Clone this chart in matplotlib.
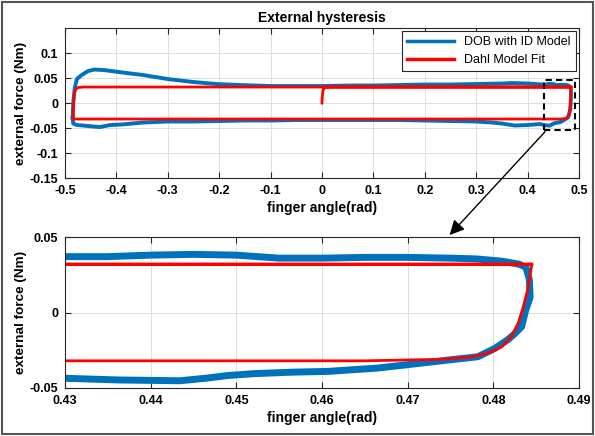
import numpy as np
import matplotlib
matplotlib.use('Agg')
import matplotlib.pyplot as plt
from matplotlib.patches import Rectangle

plt.rcParams['font.family'] = ['Liberation Sans', 'DejaVu Sans']
plt.rcParams['font.weight'] = 'bold'

dob_x = [-0.485, -0.484, -0.481, -0.477, -0.4675, -0.455, -0.443, -0.425, -0.41, -0.38,
         -0.348, -0.30, -0.25, -0.205, -0.16, -0.10, -0.05, 0.0, 0.05, 0.10,
         0.15, 0.20, 0.25, 0.30, 0.35, 0.37, 0.40, 0.43, 0.435, 0.44,
         0.445, 0.45, 0.455, 0.46, 0.465, 0.47, 0.475, 0.478, 0.481, 0.483,
         0.4838, 0.4842, 0.4843, 0.4838, 0.4833, 0.4825, 0.4817, 0.4802, 0.4782, 0.4755,
         0.4724, 0.4665, 0.4607, 0.4566, 0.452, 0.4489, 0.4465, 0.4434, 0.4364, 0.4302,
         0.424, 0.40, 0.375, 0.35, 0.327, 0.30, 0.25, 0.20, 0.15, 0.10,
         0.05, 0.0, -0.05, -0.10, -0.15, -0.20, -0.251, -0.30, -0.348, -0.39,
         -0.412, -0.432, -0.445, -0.465, -0.477, -0.484, -0.485]
dob_y = [-0.030, 0.000, 0.030, 0.048, 0.056, 0.064, 0.067, 0.066, 0.064, 0.060,
         0.056, 0.048, 0.042, 0.038, 0.036, 0.034, 0.034, 0.034, 0.035, 0.035,
         0.036, 0.037, 0.037, 0.038, 0.039, 0.040, 0.039, 0.037, 0.037, 0.038,
         0.0385, 0.038, 0.036, 0.036, 0.0365, 0.0365, 0.036, 0.0355, 0.034, 0.032,
         0.030, 0.022, 0.010, 0.002, -0.0094, -0.014, -0.018, -0.0237, -0.0293, -0.031,
         -0.033, -0.0368, -0.039, -0.0395, -0.0405, -0.0418, -0.0435, -0.0452, -0.0447, -0.0436,
         -0.042, -0.044, -0.045, -0.041, -0.0387, -0.037, -0.036, -0.035, -0.034, -0.034,
         -0.034, -0.034, -0.034, -0.035, -0.035, -0.036, -0.037, -0.037, -0.039, -0.043,
         -0.044, -0.048, -0.047, -0.045, -0.044, -0.041, -0.030]

# Dahl model fit
dahl_x = [0.0, 0.0005, 0.0015, 0.003, 0.006, 0.012,
          0.4845, 0.4840, 0.4835, 0.4829, 0.4821, 0.4810, 0.4796, 0.4777, 0.4757, 0.4738, 0.465,
          -0.465, -0.4845,
          -0.4840, -0.4835, -0.4829, -0.4821, -0.4810, -0.4796, -0.4777, -0.4757, -0.4738, -0.465,
          0.4845]
dahl_y = [0.0, 0.012, 0.022, 0.028, 0.031, 0.032,
          0.032, 0.0149, 0.0038, -0.0072, -0.016, -0.0226, -0.0264, -0.0293, -0.0303, -0.031, -0.032,
          -0.032, -0.032,
          -0.0149, -0.0038, 0.0072, 0.016, 0.0226, 0.0264, 0.0293, 0.0303, 0.031, 0.032,
          0.032]

top_xticks = [-0.5, -0.4, -0.3, -0.2, -0.1, 0, 0.1, 0.2, 0.3, 0.4, 0.5]
top_xlabels = ['-0.5', '-0.4', '-0.3', '-0.2', '-0.1', '0', '0.1', '0.2', '0.3', '0.4', '0.5']
top_yticks = [-0.15, -0.1, -0.05, 0, 0.05, 0.1]
top_ylabels = ['-0.15', '-0.1', '-0.05', '0', '0.05', '0.1']
bot_xticks = [0.43, 0.44, 0.45, 0.46, 0.47, 0.48, 0.49]
bot_xlabels = ['0.43', '0.44', '0.45', '0.46', '0.47', '0.48', '0.49']
bot_yticks = [-0.05, 0, 0.05]
bot_ylabels = ['-0.05', '0', '0.05']

blue = '#0072BD'
red = '#FF0000'

fig = plt.figure(figsize=(5.95, 4.36), dpi=100)
fig.patches.append(Rectangle((0.004, 0.004), 0.992, 0.992, transform=fig.transFigure,
                             fill=False, edgecolor='#555555', lw=1.5))

ax1 = fig.add_axes([0.1092, 0.5917, 0.8639, 0.344])
ax2 = fig.add_axes([0.1092, 0.1101, 0.8639, 0.3463])

def style(ax):
    ax.grid(True, color='#dddddd', lw=0.7)
    ax.set_axisbelow(True)
    ax.tick_params(direction='in', top=True, right=True, labelsize=9, length=4,
                   width=0.8, color='#262626', pad=5)
    for s in ax.spines.values():
        s.set_color('#262626')
        s.set_linewidth(0.8)
    ax.set_xlabel('finger angle(rad)', fontsize=10, fontweight='bold', labelpad=3)
    ax.set_ylabel('external force (Nm)', fontsize=9.7, fontweight='bold', labelpad=2)

ax1.plot(dob_x, dob_y, color=blue, lw=2.8, label='DOB with ID Model')
ax1.plot(dahl_x, dahl_y, color=red, lw=2.0, label='Dahl Model Fit')
ax1.set_xlim(-0.5, 0.5)
ax1.set_ylim(-0.15, 0.15)
ax1.set_xticks(top_xticks, top_xlabels)
ax1.set_yticks(top_yticks, top_ylabels)
style(ax1)
ax1.set_title('External hysteresis', fontsize=10, fontweight='bold', pad=4)
leg = ax1.legend(loc='upper right', handlelength=3.8, borderaxespad=0.25,
                 fancybox=False, framealpha=1, edgecolor='#262626',
                 prop={'weight': 'normal', 'size': 9})
leg.get_frame().set_linewidth(0.8)
for h in leg.get_lines():
    h.set_linewidth(2.5)
ax1.add_patch(Rectangle((0.432, -0.053), 0.06, 0.10, fill=False, edgecolor='k',
                        ls=(0, (3, 2)), lw=1.5, zorder=5))

ax2.plot(dob_x, dob_y, color=blue, lw=5.0)
ax2.plot(dahl_x, dahl_y, color=red, lw=2.0)
ax2.set_xlim(0.43, 0.49)
ax2.set_ylim(-0.05, 0.05)
ax2.set_xticks(bot_xticks, bot_xlabels)
ax2.set_yticks(bot_yticks, bot_ylabels)
style(ax2)

ax2.annotate('', xy=(0.4749, 0.0513), xycoords=ax2.transData,
             xytext=(0.434, -0.0574), textcoords=ax1.transData,
             arrowprops=dict(arrowstyle='-|>', color='k', lw=1.0, mutation_scale=22,
                             shrinkA=0, shrinkB=0),
             annotation_clip=False)

fig.savefig('out.png', dpi=100)
